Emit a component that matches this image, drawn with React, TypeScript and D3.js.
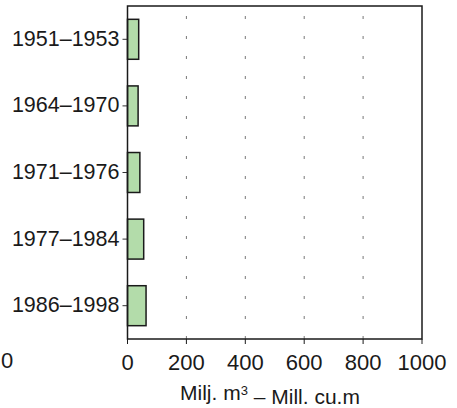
import React from "react";
import * as d3 from "d3";

const categories = ["1951–1953", "1964–1970", "1971–1976", "1977–1984", "1986–1998"];
const values = [38, 36, 42, 55, 63];
const xTicks = [0, 200, 400, 600, 800, 1000];
const gridTicks = [200, 400, 600, 800];

export default function App() {
  const W = 457, H = 408;
  const left = 127.5, right = 422, top = 6, bottom = 339;
  const x = d3.scaleLinear().domain([0, 1000]).range([left, right]);
  const y = d3.scaleBand<string>().domain(categories).range([top, bottom]).paddingInner(0.4).paddingOuter(0.2);
  const font = "'Liberation Sans', Arial, Helvetica, sans-serif";
  return (
    <svg width={W} height={H} style={{ position: "absolute", left: 0, top: 0, background: "#fff" }}>
      {gridTicks.map((t) => (
        <line key={t} x1={x(t)} x2={x(t)} y1={top + 10} y2={bottom} stroke="#777" strokeWidth={1} strokeDasharray="3,17" />
      ))}
      {categories.map((c, i) => (
        <g key={c}>
          <rect x={x(0)} y={y(c)!} width={x(values[i]) - x(0)} height={y.bandwidth()} fill="#b3dcaa" stroke="#1a1a1a" strokeWidth={1.5} />
          <line x1={left - 5} x2={left} y1={y(c)! + y.bandwidth() / 2} y2={y(c)! + y.bandwidth() / 2} stroke="#333" strokeWidth={1} />
          <text x={left - 8} y={y(c)! + y.bandwidth() / 2 - 1} dy="0.35em" textAnchor="end" fontFamily={font} fontSize={21.5} fill="#1a1a1a">{c}</text>
        </g>
      ))}
      <rect x={left} y={top} width={right - left} height={bottom - top} fill="none" stroke="#1a1a1a" strokeWidth={1.5} />
      {xTicks.map((t) => (
        <g key={t}>
          <line x1={x(t)} x2={x(t)} y1={bottom} y2={bottom + 5} stroke="#1a1a1a" strokeWidth={1} />
          <text x={x(t)} y={362} dy="0.35em" textAnchor="middle" fontFamily={font} fontSize={22} fill="#1a1a1a">{t}</text>
        </g>
      ))}
      <text x={7} y={360} dy="0.35em" textAnchor="middle" fontFamily={font} fontSize={22} fill="#1a1a1a">0</text>
      <text x={270} y={393} dy="0.35em" textAnchor="middle" fontFamily={font} fontSize={21} fill="#1a1a1a">
        Milj. m<tspan dy="-0.45em" fontSize={13}>3</tspan><tspan dy="0.45em"> – Mill. cu.m</tspan>
      </text>
    </svg>
  );
}
